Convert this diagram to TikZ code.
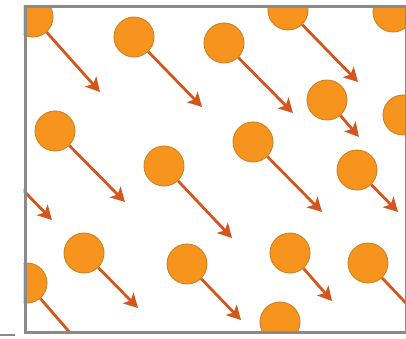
\documentclass[tikz,border=0pt]{standalone}
\usetikzlibrary{arrows.meta,backgrounds}
\definecolor{ballfill}{HTML}{F7941D}
\definecolor{balledge}{HTML}{C98224}
\definecolor{arrowred}{HTML}{D4561F}
\definecolor{framegray}{HTML}{8A8A8A}
\tikzset{
  ball/.style={circle, fill=ballfill, draw=balledge, line width=0.9pt, minimum size=40pt, inner sep=0pt},
  vel/.style={draw=arrowred, line width=2.8pt, -{Stealth[length=14pt,width=15pt,inset=3.5pt]}},
  frame/.style={draw=framegray, line width=3pt}
}
\begin{document}
\begin{tikzpicture}[x=1pt,y=-1pt]
\useasboundingbox (0,0) rectangle (406,338);
% velocity targets
\coordinate (t1) at (100,92);
\coordinate (t2) at (202,107);
\coordinate (t3) at (293,113);
\coordinate (t4) at (358,82);
\coordinate (t5) at (450,75);
\coordinate (t6) at (359,137);
\coordinate (t7) at (460,180);
\coordinate (t8) at (125,202);
\coordinate (t9) at (232,238);
\coordinate (t10) at (322,212);
\coordinate (t11) at (398,212);
\coordinate (t12) at (52,220);
\coordinate (t13) at (138,308);
\coordinate (t14) at (85,350);
\coordinate (t15) at (241,320);
\coordinate (t16) at (332,301);
\coordinate (t17) at (420,318);
\coordinate (t18) at (340,390);
% particles, clipped to the box
\begin{scope}
  \clip (23.5,5) rectangle (405,331);
  \node[ball] (b1) at (33,17) {};
  \node[ball] (b2) at (134,37) {};
  \node[ball] (b3) at (224,43) {};
  \node[ball] (b4) at (288,10) {};
  \node[ball] (b5) at (393,12) {};
  \node[ball] (b6) at (327,100) {};
  \node[ball] (b7) at (403,115) {};
  \node[ball] (b8) at (55,131) {};
  \node[ball] (b9) at (164,166) {};
  \node[ball] (b10) at (253,142) {};
  \node[ball] (b11) at (357,170) {};
  \node[ball] (b12) at (-8,158) {};
  \node[ball] (b13) at (84,253) {};
  \node[ball] (b14) at (27,283) {};
  \node[ball] (b15) at (187,264) {};
  \node[ball] (b16) at (290,253) {};
  \node[ball] (b17) at (368,263) {};
  \node[ball] (b18) at (280,322) {};
\end{scope}
% velocity arrows behind the particles
\begin{pgfonlayer}{background}
  \clip (23.5,5) rectangle (405,331);
  \foreach \i in {1,...,18} {
    \draw[vel] (b\i) -- (t\i);
  }
\end{pgfonlayer}
\node[frame, minimum width=381.5pt, minimum height=326pt, inner sep=0pt, anchor=north west] (box) at (23.5,5) {};
\coordinate (m0) at (0,335);
\coordinate (m1) at (15,335);
\draw[framegray, line width=1.5pt] (m0) -- (m1);
\end{tikzpicture}
\end{document}
